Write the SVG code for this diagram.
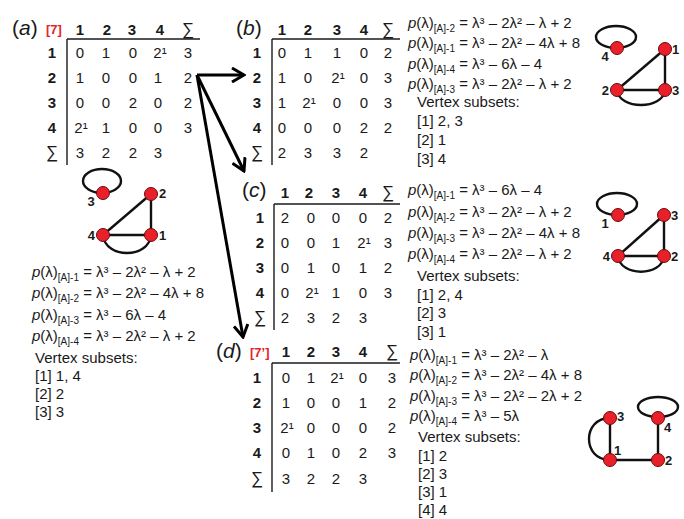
<svg xmlns="http://www.w3.org/2000/svg" width="684" height="519" viewBox="0 0 684 519">
<defs>
<style>
text{font-family:"Liberation Sans",Arial,sans-serif;fill:#1a1a1a}
.n{font-size:15px;text-anchor:middle}
.h{font-weight:bold}
.sg{font-weight:normal;font-size:17px}
.pl{font-size:21px}
.red{fill:#e3262b;font-weight:bold;font-size:13px}
.p{font-size:15px}
.s{font-size:10px}
.rule{stroke:#1a1a1a;stroke-width:1.4}
.edge{stroke:#111;stroke-width:2.4;fill:none}
.arr{stroke:#000;stroke-width:3;fill:none}
.node{fill:#e8202a;stroke:#6e0a0a;stroke-width:1}
.vl{font-size:13px;font-weight:bold}
</style>
<marker id="ah" markerUnits="userSpaceOnUse" markerWidth="16" markerHeight="16" viewBox="-14 -8 16 16" refX="0" refY="0" orient="auto">
<path d="M-12,-7 L0,0 L-12,7" fill="none" stroke="#000" stroke-width="3"/>
</marker>
</defs>
<rect width="684" height="519" fill="#fff"/>

<g id="matrix-a">
<text x="12" y="35" class="pl">(<tspan font-style="italic">a</tspan>)</text>
<text x="46" y="34" class="red">[7]</text>
<text y="35" class="n h"><tspan x="80">1</tspan><tspan x="107">2</tspan><tspan x="132">3</tspan><tspan x="160">4</tspan><tspan x="188" class="sg">∑</tspan></text>
<line x1="67" y1="39" x2="200" y2="39" class="rule"/>
<line x1="67" y1="39" x2="67" y2="165" class="rule"/>
<text y="58" class="n"><tspan x="52" class="h">1</tspan><tspan x="80">0</tspan><tspan x="106">1</tspan><tspan x="133">0</tspan><tspan x="160">2¹</tspan><tspan x="188">3</tspan></text>
<text y="83" class="n"><tspan x="52" class="h">2</tspan><tspan x="80">1</tspan><tspan x="106">0</tspan><tspan x="133">0</tspan><tspan x="158">1</tspan><tspan x="188">2</tspan></text>
<text y="108" class="n"><tspan x="52" class="h">3</tspan><tspan x="80">0</tspan><tspan x="106">0</tspan><tspan x="133">2</tspan><tspan x="158">0</tspan><tspan x="188">2</tspan></text>
<text y="133" class="n"><tspan x="52" class="h">4</tspan><tspan x="81">2¹</tspan><tspan x="106">1</tspan><tspan x="133">0</tspan><tspan x="158">0</tspan><tspan x="188">3</tspan></text>
<text y="158" class="n"><tspan x="52" class="sg">∑</tspan><tspan x="80">3</tspan><tspan x="106">2</tspan><tspan x="133">2</tspan><tspan x="158">3</tspan></text>
</g>

<g id="matrix-b">
<text x="236" y="35" class="pl">(<tspan font-style="italic">b</tspan>)</text>
<text y="35" class="n h"><tspan x="282">1</tspan><tspan x="308">2</tspan><tspan x="337">3</tspan><tspan x="364">4</tspan><tspan x="388" class="sg">∑</tspan></text>
<line x1="272" y1="39" x2="400" y2="39" class="rule"/>
<line x1="272" y1="39" x2="272" y2="165" class="rule"/>
<text y="58" class="n"><tspan x="257" class="h">1</tspan><tspan x="282">0</tspan><tspan x="308">1</tspan><tspan x="337">1</tspan><tspan x="364">0</tspan><tspan x="388">2</tspan></text>
<text y="83" class="n"><tspan x="257" class="h">2</tspan><tspan x="282">1</tspan><tspan x="308">0</tspan><tspan x="338">2¹</tspan><tspan x="364">0</tspan><tspan x="388">3</tspan></text>
<text y="108" class="n"><tspan x="257" class="h">3</tspan><tspan x="282">1</tspan><tspan x="309">2¹</tspan><tspan x="337">0</tspan><tspan x="364">0</tspan><tspan x="388">3</tspan></text>
<text y="133" class="n"><tspan x="257" class="h">4</tspan><tspan x="282">0</tspan><tspan x="308">0</tspan><tspan x="337">0</tspan><tspan x="364">2</tspan><tspan x="388">2</tspan></text>
<text y="158" class="n"><tspan x="257" class="sg">∑</tspan><tspan x="282">2</tspan><tspan x="308">3</tspan><tspan x="337">3</tspan><tspan x="364">2</tspan></text>
</g>

<g id="matrix-c">
<text x="242" y="197" class="pl">(<tspan font-style="italic">c</tspan>)</text>
<text y="198" class="n h"><tspan x="285">1</tspan><tspan x="309">2</tspan><tspan x="336">3</tspan><tspan x="363">4</tspan><tspan x="388" class="sg">∑</tspan></text>
<line x1="274" y1="204" x2="400" y2="204" class="rule"/>
<line x1="274" y1="204" x2="274" y2="330" class="rule"/>
<text y="223" class="n"><tspan x="260" class="h">1</tspan><tspan x="285">2</tspan><tspan x="311">0</tspan><tspan x="336">0</tspan><tspan x="363">0</tspan><tspan x="388">2</tspan></text>
<text y="248" class="n"><tspan x="260" class="h">2</tspan><tspan x="285">0</tspan><tspan x="311">0</tspan><tspan x="336">1</tspan><tspan x="364">2¹</tspan><tspan x="388">3</tspan></text>
<text y="273" class="n"><tspan x="260" class="h">3</tspan><tspan x="285">0</tspan><tspan x="311">1</tspan><tspan x="336">0</tspan><tspan x="363">1</tspan><tspan x="388">2</tspan></text>
<text y="298" class="n"><tspan x="260" class="h">4</tspan><tspan x="285">0</tspan><tspan x="312">2¹</tspan><tspan x="336">1</tspan><tspan x="363">0</tspan><tspan x="388">3</tspan></text>
<text y="323" class="n"><tspan x="260" class="sg">∑</tspan><tspan x="285">2</tspan><tspan x="311">3</tspan><tspan x="336">2</tspan><tspan x="363">3</tspan></text>
</g>

<g id="matrix-d">
<text x="216" y="358" class="pl">(<tspan font-style="italic">d</tspan>)</text>
<text x="250" y="357" class="red">[7’]</text>
<text y="357" class="n h"><tspan x="286">1</tspan><tspan x="311">2</tspan><tspan x="336">3</tspan><tspan x="363">4</tspan><tspan x="392" class="sg">∑</tspan></text>
<line x1="272" y1="363" x2="400" y2="363" class="rule"/>
<line x1="272" y1="363" x2="272" y2="492" class="rule"/>
<text y="383" class="n"><tspan x="257" class="h">1</tspan><tspan x="286">0</tspan><tspan x="311">1</tspan><tspan x="337">2¹</tspan><tspan x="363">0</tspan><tspan x="392">3</tspan></text>
<text y="408" class="n"><tspan x="257" class="h">2</tspan><tspan x="286">1</tspan><tspan x="311">0</tspan><tspan x="336">0</tspan><tspan x="363">1</tspan><tspan x="392">2</tspan></text>
<text y="433" class="n"><tspan x="257" class="h">3</tspan><tspan x="287">2¹</tspan><tspan x="311">0</tspan><tspan x="336">0</tspan><tspan x="363">0</tspan><tspan x="392">2</tspan></text>
<text y="458" class="n"><tspan x="257" class="h">4</tspan><tspan x="286">0</tspan><tspan x="311">1</tspan><tspan x="336">0</tspan><tspan x="363">2</tspan><tspan x="392">3</tspan></text>
<text y="484" class="n"><tspan x="257" class="sg">∑</tspan><tspan x="286">3</tspan><tspan x="311">2</tspan><tspan x="336">2</tspan><tspan x="363">3</tspan></text>
</g>

<g id="poly-a">
<text x="32" y="277" class="p"><tspan font-style="italic">p</tspan>(λ)<tspan class="s" dy="3.5">[A]-1</tspan><tspan dy="-3.5"> = λ³ – 2λ² – λ + 2</tspan></text>
<text x="32" y="298" class="p"><tspan font-style="italic">p</tspan>(λ)<tspan class="s" dy="3.5">[A]-2</tspan><tspan dy="-3.5"> = λ³ – 2λ² – 4λ + 8</tspan></text>
<text x="32" y="320" class="p"><tspan font-style="italic">p</tspan>(λ)<tspan class="s" dy="3.5">[A]-3</tspan><tspan dy="-3.5"> = λ³ – 6λ – 4</tspan></text>
<text x="32" y="341" class="p"><tspan font-style="italic">p</tspan>(λ)<tspan class="s" dy="3.5">[A]-4</tspan><tspan dy="-3.5"> = λ³ – 2λ² – λ + 2</tspan></text>
<text x="35" y="363" class="p">Vertex subsets:</text>
<text x="35" y="381" class="p">[1] 1, 4</text>
<text x="35" y="399" class="p">[2] 2</text>
<text x="35" y="417" class="p">[3] 3</text>
</g>

<g id="poly-b">
<text x="408" y="28" class="p"><tspan font-style="italic">p</tspan>(λ)<tspan class="s" dy="3.5">[A]-2</tspan><tspan dy="-3.5"> = λ³ – 2λ² – λ + 2</tspan></text>
<text x="408" y="48" class="p"><tspan font-style="italic">p</tspan>(λ)<tspan class="s" dy="3.5">[A]-1</tspan><tspan dy="-3.5"> = λ³ – 2λ² – 4λ + 8</tspan></text>
<text x="408" y="69" class="p"><tspan font-style="italic">p</tspan>(λ)<tspan class="s" dy="3.5">[A]-4</tspan><tspan dy="-3.5"> = λ³ – 6λ – 4</tspan></text>
<text x="408" y="89" class="p"><tspan font-style="italic">p</tspan>(λ)<tspan class="s" dy="3.5">[A]-3</tspan><tspan dy="-3.5"> = λ³ – 2λ² – λ + 2</tspan></text>
<text x="417" y="107" class="p">Vertex subsets:</text>
<text x="417" y="126" class="p">[1] 2, 3</text>
<text x="417" y="145" class="p">[2] 1</text>
<text x="417" y="164" class="p">[3] 4</text>
</g>

<g id="poly-c">
<text x="408" y="195" class="p"><tspan font-style="italic">p</tspan>(λ)<tspan class="s" dy="3.5">[A]-1</tspan><tspan dy="-3.5"> = λ³ – 6λ – 4</tspan></text>
<text x="408" y="217" class="p"><tspan font-style="italic">p</tspan>(λ)<tspan class="s" dy="3.5">[A]-2</tspan><tspan dy="-3.5"> = λ³ – 2λ² – λ + 2</tspan></text>
<text x="408" y="238" class="p"><tspan font-style="italic">p</tspan>(λ)<tspan class="s" dy="3.5">[A]-3</tspan><tspan dy="-3.5"> = λ³ – 2λ² – 4λ + 8</tspan></text>
<text x="408" y="259" class="p"><tspan font-style="italic">p</tspan>(λ)<tspan class="s" dy="3.5">[A]-4</tspan><tspan dy="-3.5"> = λ³ – 2λ² – λ + 2</tspan></text>
<text x="417" y="281" class="p">Vertex subsets:</text>
<text x="417" y="300" class="p">[1] 2, 4</text>
<text x="417" y="318" class="p">[2] 3</text>
<text x="417" y="337" class="p">[3] 1</text>
</g>

<g id="poly-d">
<text x="410" y="360" class="p"><tspan font-style="italic">p</tspan>(λ)<tspan class="s" dy="3.5">[A]-1</tspan><tspan dy="-3.5"> = λ³ – 2λ² – λ</tspan></text>
<text x="410" y="380" class="p"><tspan font-style="italic">p</tspan>(λ)<tspan class="s" dy="3.5">[A]-2</tspan><tspan dy="-3.5"> = λ³ – 2λ² – 4λ + 8</tspan></text>
<text x="410" y="401" class="p"><tspan font-style="italic">p</tspan>(λ)<tspan class="s" dy="3.5">[A]-3</tspan><tspan dy="-3.5"> = λ³ – 2λ² – 2λ + 2</tspan></text>
<text x="410" y="421" class="p"><tspan font-style="italic">p</tspan>(λ)<tspan class="s" dy="3.5">[A]-4</tspan><tspan dy="-3.5"> = λ³ – 5λ</tspan></text>
<text x="418" y="442" class="p">Vertex subsets:</text>
<text x="418" y="461" class="p">[1] 2</text>
<text x="418" y="479" class="p">[2] 3</text>
<text x="418" y="497" class="p">[3] 1</text>
<text x="418" y="515" class="p">[4] 4</text>
</g>

<g id="connectors">
<line x1="197" y1="75" x2="244" y2="75" class="arr" marker-end="url(#ah)"/>
<line x1="197" y1="75" x2="244" y2="171" class="arr" marker-end="url(#ah)"/>
<line x1="197" y1="75" x2="243" y2="337" class="arr" marker-end="url(#ah)"/>
<ellipse cx="102" cy="181" rx="19" ry="12" class="edge"/>
<line x1="151" y1="194" x2="151" y2="235" class="edge"/>
<line x1="103" y1="235" x2="151" y2="194" class="edge"/>
<line x1="103" y1="235" x2="151" y2="235" class="edge"/>
<path d="M103,235 C105,259 149,259 151,235" class="edge"/>
<ellipse cx="616" cy="37" rx="20" ry="11" class="edge"/>
<line x1="665" y1="49" x2="665" y2="90" class="edge"/>
<line x1="617" y1="90" x2="665" y2="49" class="edge"/>
<line x1="617" y1="90" x2="665" y2="90" class="edge"/>
<path d="M617,90 C619,110 663,110 665,90" class="edge"/>
<ellipse cx="617" cy="204" rx="20" ry="11" class="edge"/>
<line x1="664" y1="215" x2="664" y2="256" class="edge"/>
<line x1="618" y1="256" x2="664" y2="215" class="edge"/>
<line x1="618" y1="256" x2="664" y2="256" class="edge"/>
<path d="M618,256 C620,277 662,277 664,256" class="edge"/>
<ellipse cx="658" cy="407" rx="20" ry="10" class="edge"/>
<line x1="610" y1="418" x2="610" y2="460" class="edge"/>
<line x1="658" y1="418" x2="658" y2="460" class="edge"/>
<line x1="610" y1="460" x2="658" y2="460" class="edge"/>
<path d="M610,418 C582,418 582,460 610,460" class="edge"/>
</g>

<g id="a-v3"><circle cx="103" cy="193" r="6.5" class="node"/><text x="91" y="206" class="vl" text-anchor="middle">3</text></g>
<g id="a-v2"><circle cx="151" cy="194" r="6.5" class="node"/><text x="159" y="198" class="vl">2</text></g>
<g id="a-v4"><circle cx="103" cy="235" r="6.5" class="node"/><text x="95" y="240" class="vl" text-anchor="end">4</text></g>
<g id="a-v1"><circle cx="151" cy="235" r="6.5" class="node"/><text x="159" y="240" class="vl">1</text></g>

<g id="b-v4"><circle cx="617" cy="48" r="6.5" class="node"/><text x="605" y="61" class="vl" text-anchor="middle">4</text></g>
<g id="b-v1"><circle cx="665" cy="49" r="6.5" class="node"/><text x="672" y="54" class="vl">1</text></g>
<g id="b-v2"><circle cx="617" cy="90" r="6.5" class="node"/><text x="609" y="95" class="vl" text-anchor="end">2</text></g>
<g id="b-v3"><circle cx="665" cy="90" r="6.5" class="node"/><text x="672" y="95" class="vl">3</text></g>

<g id="c-v1"><circle cx="618" cy="215" r="6.5" class="node"/><text x="605" y="228" class="vl" text-anchor="middle">1</text></g>
<g id="c-v3"><circle cx="664" cy="215" r="6.5" class="node"/><text x="671" y="220" class="vl">3</text></g>
<g id="c-v4"><circle cx="618" cy="256" r="6.5" class="node"/><text x="610" y="261" class="vl" text-anchor="end">4</text></g>
<g id="c-v2"><circle cx="664" cy="256" r="6.5" class="node"/><text x="671" y="261" class="vl">2</text></g>

<g id="d-v3"><circle cx="610" cy="418" r="6.5" class="node"/><text x="617" y="421" class="vl">3</text></g>
<g id="d-v4"><circle cx="658" cy="418" r="6.5" class="node"/><text x="664" y="432" class="vl">4</text></g>
<g id="d-v1"><circle cx="610" cy="460" r="6.5" class="node"/><text x="614" y="455" class="vl">1</text></g>
<g id="d-v2"><circle cx="658" cy="460" r="6.5" class="node"/><text x="665" y="465" class="vl">2</text></g>
</svg>
